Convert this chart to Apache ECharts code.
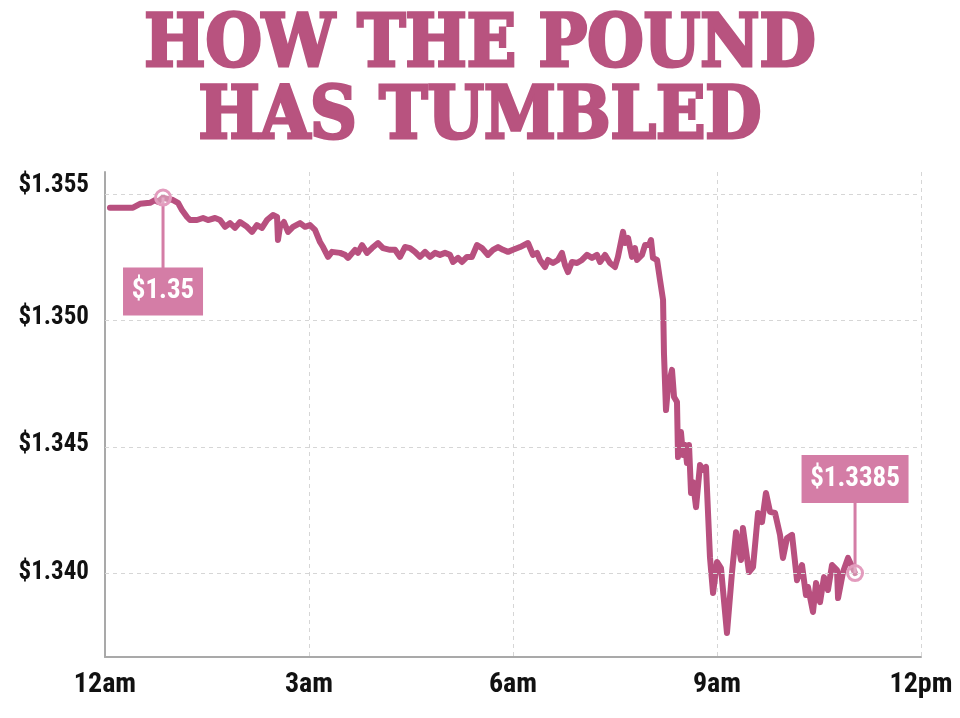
<!DOCTYPE html>
<html>
<head>
<meta charset="utf-8">
<script src="https://cdn.jsdelivr.net/npm/echarts@6/dist/echarts.min.js"></script>
<style>
  html, body { margin: 0; padding: 0; background: #ffffff; }
  #chart { width: 960px; height: 718px; }
</style>
</head>
<body>
<div id="chart"></div>
<script>
// ---- DATA ----
const titleText = 'HOW THE POUND\nHAS TUMBLED';
const xTickLabels = ['12am', '3am', '6am', '9am', '12pm'];
const yGridValues = [1.340, 1.345, 1.350, 1.355];
const yGridLabels = ['$1.340', '$1.345', '$1.350', '$1.355'];

// minutes after midnight
const minutes = [
  4.4, 24.7, 30.9, 39.7, 44.1, 46.8, 51.2, 55.6, 60.0, 64.4,
  67.9, 72.4, 75.0, 81.2, 86.5, 90.9, 97.1, 101.5, 105.9, 110.3,
  114.7, 119.1, 125.3, 129.7, 134.1, 138.5, 142.9, 148.2, 151.8, 152.6,
  154.4, 157.9, 161.5, 165.9, 172.1, 176.5, 180.9, 185.3, 189.7, 192.4,
  196.8, 200.3, 207.4, 211.8, 214.4, 220.6, 223.2, 226.8, 231.2, 235.6,
  240.9, 245.3, 251.5, 255.9, 260.3, 264.7, 269.1, 273.5, 277.9, 282.4,
  286.8, 291.2, 295.6, 300.0, 304.4, 307.1, 311.5, 315.0, 319.4, 323.8,
  328.2, 332.6, 337.9, 342.4, 346.8, 351.2, 355.6, 360.0, 366.2, 373.2,
  377.6, 381.2, 383.8, 388.2, 390.9, 395.3, 399.7, 403.2, 405.9, 408.5,
  412.1, 416.5, 420.9, 425.3, 429.7, 434.1, 436.8, 441.2, 445.6, 450.0,
  452.6, 457.1, 458.8, 461.5, 465.0, 467.6, 469.4, 473.8, 476.5, 480.0,
  481.8, 483.5, 487.1, 489.7, 492.4, 493.2, 495.0, 496.8, 500.3, 502.1,
  504.7, 505.6, 508.2, 510.0, 511.8, 513.5, 515.3, 517.1, 518.8, 521.5,
  525.0, 527.6, 530.3, 533.8, 536.5, 540.0, 543.5, 548.8, 553.2, 556.8,
  561.2, 562.9, 566.5, 568.2, 571.8, 576.2, 579.7, 583.2, 586.8, 591.2,
  595.6, 598.2, 601.8, 606.2, 610.6, 615.0, 618.5, 620.3, 624.7, 627.4,
  630.9, 634.4, 637.9, 641.5, 645.9, 646.8, 651.2, 655.6, 661.8
];
// GBP/USD rate
const rates = [
  1.35447, 1.35447, 1.35462, 1.35466, 1.35477, 1.35470, 1.35487, 1.35481, 1.35477, 1.35466,
  1.35438, 1.35410, 1.35398, 1.35398, 1.35406, 1.35398, 1.35406, 1.35398, 1.35371, 1.35386,
  1.35367, 1.35390, 1.35371, 1.35351, 1.35378, 1.35367, 1.35398, 1.35418, 1.35410, 1.35319,
  1.35371, 1.35390, 1.35351, 1.35371, 1.35386, 1.35371, 1.35378, 1.35359, 1.35311, 1.35291,
  1.35252, 1.35272, 1.35268, 1.35260, 1.35248, 1.35280, 1.35268, 1.35299, 1.35268, 1.35287,
  1.35307, 1.35287, 1.35280, 1.35280, 1.35252, 1.35291, 1.35287, 1.35272, 1.35252, 1.35272,
  1.35252, 1.35268, 1.35260, 1.35268, 1.35260, 1.35232, 1.35248, 1.35232, 1.35252, 1.35252,
  1.35299, 1.35287, 1.35260, 1.35280, 1.35291, 1.35280, 1.35272, 1.35280, 1.35291, 1.35307,
  1.35260, 1.35268, 1.35240, 1.35212, 1.35240, 1.35228, 1.35240, 1.35268, 1.35220, 1.35192,
  1.35232, 1.35228, 1.35240, 1.35260, 1.35248, 1.35260, 1.35232, 1.35260, 1.35228, 1.35212,
  1.35252, 1.35351, 1.35307, 1.35327, 1.35252, 1.35287, 1.35240, 1.35260, 1.35299, 1.35299,
  1.35319, 1.35248, 1.35240, 1.35161, 1.35082, 1.34872, 1.34646, 1.34737, 1.34805, 1.34698,
  1.34678, 1.34460, 1.34559, 1.34468, 1.34508, 1.34437, 1.34508, 1.34318, 1.34361, 1.34262,
  1.34429, 1.34409, 1.34421, 1.34064, 1.33922, 1.34045, 1.34021, 1.33764, 1.34001, 1.34163,
  1.34053, 1.34179, 1.34061, 1.34005, 1.34025, 1.34239, 1.34203, 1.34318, 1.34243, 1.34239,
  1.34152, 1.34061, 1.34140, 1.34152, 1.33973, 1.34033, 1.33914, 1.33946, 1.33847, 1.33962,
  1.33886, 1.33985, 1.33934, 1.34033, 1.34013, 1.33902, 1.34005, 1.34061, 1.34001
];
const startLabel = '$1.35';
const endLabel = '$1.3385';
const startIndex = 6;               // the marked early high
const endIndex = rates.length - 1;  // last reading

// ---- STYLE ----
const PINK = '#b8507f';
const BOX = '#d47da6';
const RING = '#e39cbe';
const NARROW = '"Roboto Condensed", Roboto, "DejaVu Sans Condensed", sans-serif';
const NARROW_STYLE = 'normal condensed';
const yRange = { min: 1.33669, max: 1.35588 };
const yLabelNudge = [-1, -2, -3, -8];

const lineData = minutes.map((m, i) => [m, rates[i]]);

const chart = echarts.init(document.getElementById('chart'), null, { renderer: 'canvas' });

const option = {
  backgroundColor: '#ffffff',
  animation: false,
  title: {
    text: titleText,
    left: 'center',
    top: 6,
    textStyle: {
      color: '#b8537f',
      fontFamily: '"DejaVu Serif Condensed","DejaVu Serif",serif',
      fontWeight: 'bold',
      fontSize: 72,
      lineHeight: 72,
      textBorderColor: '#b8537f',
      textBorderWidth: 3
    }
  },
  grid: { left: 105, right: 39, top: 172, bottom: 61, containLabel: false },
  xAxis: {
    type: 'value',
    min: 0,
    max: 720,
    interval: 180,
    axisLine: { show: true, lineStyle: { color: '#a9a9a9', width: 2 } },
    axisTick: { show: false },
    axisLabel: {
      margin: 14,
      color: '#111111',
      fontFamily: NARROW,
      fontStyle: NARROW_STYLE,
      fontWeight: 'bold',
      fontSize: 28,
      formatter: v => xTickLabels[Math.round(v / 180)]
    },
    splitLine: { show: true, lineStyle: { color: '#d6d6d6', type: [4, 4], width: 1 } }
  },
  yAxis: {
    type: 'value',
    min: yRange.min,
    max: yRange.max,
    axisLine: { show: true, lineStyle: { color: '#a9a9a9', width: 2 } },
    axisTick: { show: false },
    axisLabel: { show: false },
    splitLine: { show: false }
  },
  series: [
    {
      type: 'line',
      z: 1,
      data: [],
      silent: true,
      markLine: {
        silent: true,
        precision: 4,
        symbol: ['none', 'none'],
        lineStyle: { color: '#d6d6d6', type: [4, 4], width: 1 },
        label: {
          show: true,
          position: 'start',
          distance: 16,
          color: '#111111',
          fontFamily: NARROW,
          fontStyle: NARROW_STYLE,
          fontWeight: 'bold',
          fontSize: 25
        },
        data: yGridValues.map((v, i) => ({
          yAxis: v,
          label: { formatter: yGridLabels[i], offset: [0, yLabelNudge[i]] }
        }))
      }
    },
    {
      type: 'line',
      z: 3,
      data: lineData,
      showSymbol: false,
      smooth: false,
      lineStyle: { color: PINK, width: 6, join: 'round', cap: 'round' },
      markPoint: {
        silent: true,
        data: [
          {
            coord: lineData[startIndex],
            symbol: 'path://M38.5,0h3v70h-3z M0,70h80v48h-80z',
            symbolSize: [80, 118],
            symbolOffset: [0, 59],
            itemStyle: { color: BOX },
            label: {
              show: true, position: 'inside', offset: [0, 35],
              formatter: startLabel, color: '#ffffff',
              fontFamily: NARROW, fontStyle: NARROW_STYLE, fontWeight: 'bold', fontSize: 27
            }
          },
          {
            coord: lineData[endIndex],
            symbol: 'path://M0,0h107v48h-107z M52,48h3v70h-3z',
            symbolSize: [107, 118],
            symbolOffset: [0, -59],
            itemStyle: { color: BOX },
            label: {
              show: true, position: 'inside', offset: [0, -35],
              formatter: endLabel, color: '#ffffff',
              fontFamily: NARROW, fontStyle: NARROW_STYLE, fontWeight: 'bold', fontSize: 27
            }
          },
          {
            coord: lineData[startIndex],
            symbol: 'circle',
            symbolSize: 15,
            itemStyle: { color: 'rgba(255,255,255,0.35)', borderColor: RING, borderWidth: 3 },
            label: { show: false }
          },
          {
            coord: lineData[endIndex],
            symbol: 'circle',
            symbolSize: 15,
            itemStyle: { color: 'rgba(255,255,255,0.35)', borderColor: RING, borderWidth: 3 },
            label: { show: false }
          }
        ]
      }
    }
  ]
};

chart.setOption(option);
</script>
</body>
</html>
